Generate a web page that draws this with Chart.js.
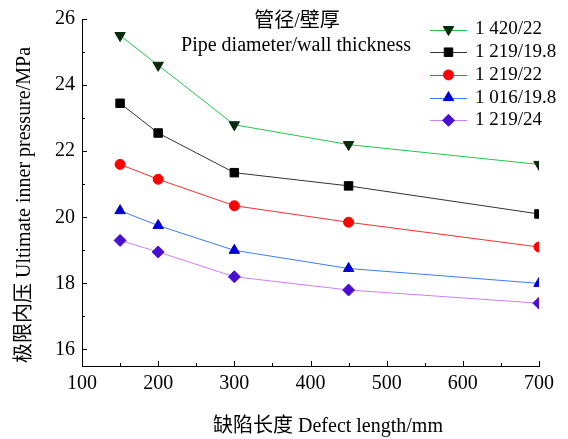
<!DOCTYPE html>
<html>
<head>
<meta charset="utf-8">
<script src="https://cdn.jsdelivr.net/npm/chart.js@4/dist/chart.umd.min.js"></script>
<style>
    body { margin: 0; background: #fff; }
</style>
</head>
<body>
<canvas id="chart" width="568" height="439"></canvas>
<script>
// defect length, mm
var lengths = [150, 200, 300, 450, 700];

// ultimate inner pressure, MPa
var p1420_22 = [25.5, 24.6, 22.8, 22.2, 21.6];
var p1219_198 = [23.45, 22.55, 21.35, 20.95, 20.1];
var p1219_22 = [21.6, 21.15, 20.35, 19.85, 19.1];
var p1016_198 = [20.2, 19.75, 19.0, 18.45, 18.0];
var p1219_24 = [19.3, 18.95, 18.2, 17.8, 17.4];

var seriesNames = ["1 420/22", "1 219/19.8", "1 219/22", "1 016/19.8", "1 219/24"];
var xTicks = [100, 200, 300, 400, 500, 600, 700];
var yTicks = [16, 18, 20, 22, 24, 26];

var serif = "'Liberation Serif', 'Noto Sans CJK SC', serif";

function pts(values) {
    return values.map(function (v, i) { return { x: lengths[i], y: v }; });
}

function series(label, values, line, fill, style, radius, rotation) {
    return {
        label: label,
        data: pts(values),
        borderColor: line,
        borderWidth: 1,
        backgroundColor: fill,
        pointBackgroundColor: fill,
        pointBorderColor: fill,
        pointBorderWidth: 1,
        pointStyle: style,
        pointRadius: radius,
        pointRotation: rotation || 0,
        tension: 0
    };
}

// inward major/minor ticks on both axes
var tickMarks = {
    id: "tickMarks",
    afterDraw: function (chart) {
        var ctx = chart.ctx, x = chart.scales.x, y = chart.scales.y;
        var a = chart.chartArea;
        ctx.save();
        ctx.strokeStyle = "#000";
        ctx.lineWidth = 1;
        ctx.beginPath();
        for (var v = 100; v <= 700; v += 50) {
            var px = Math.round(x.getPixelForValue(v)) + 0.5;
            var len = v % 100 === 0 ? 5 : 3;
            ctx.moveTo(px, a.bottom);
            ctx.lineTo(px, a.bottom - len);
        }
        for (var w = 16; w <= 26; w += 1) {
            var py = Math.round(y.getPixelForValue(w)) + 0.5;
            var l = w % 2 === 0 ? 5 : 3;
            ctx.moveTo(a.left, py);
            ctx.lineTo(a.left + l, py);
        }
        ctx.stroke();
        ctx.restore();
    }
};

// legend with line + marker, plus heading text
var legendBox = {
    id: "legendBox",
    afterDraw: function (chart) {
        var ctx = chart.ctx;
        ctx.save();
        ctx.fillStyle = "#000";
        ctx.font = "20px " + serif;
        ctx.textAlign = "center";
        ctx.textBaseline = "middle";
        ctx.fillText("管径/壁厚", 297, 22);
        ctx.fillText("Pipe diameter/wall thickness", 296, 46);

        ctx.font = "19px " + serif;
        chart.data.datasets.forEach(function (ds, i) {
            var yy = 29.5 + i * 22.7;
            ctx.strokeStyle = ds.borderColor;
            ctx.lineWidth = 1;
            ctx.beginPath();
            ctx.moveTo(430, Math.round(yy) + 0.5);
            ctx.lineTo(467, Math.round(yy) + 0.5);
            ctx.stroke();
            ctx.fillStyle = ds.pointBackgroundColor;
            ctx.strokeStyle = ds.pointBorderColor;
            Chart.helpers.drawPoint(ctx, {
                pointStyle: ds.pointStyle,
                radius: ds.pointRadius,
                rotation: ds.pointRotation,
                borderWidth: 1
            }, 448.5, yy);
            ctx.fillStyle = "#000";
            ctx.textAlign = "left";
            ctx.fillText(ds.label, 475, yy);
        });
        ctx.restore();
    }
};

var nb = "\u00a0";

new Chart(document.getElementById("chart"), {
    type: "line",
    data: {
        datasets: [
            series(seriesNames[0], p1420_22, "#1ec94a", "#062a0a", "triangle", 6, 180),
            series(seriesNames[1], p1219_198, "#333333", "#000000", "rect", 6),
            series(seriesNames[2], p1219_22, "#ff3030", "#ff0000", "circle", 5),
            series(seriesNames[3], p1016_198, "#3f7bff", "#0000d0", "triangle", 6),
            series(seriesNames[4], p1219_24, "#d27cff", "#4a0fd0", "rectRot", 6)
        ]
    },
    options: {
        responsive: false,
        animation: false,
        layout: { padding: { top: 9, right: 29, left: 0, bottom: 0 } },
        plugins: {
            legend: { display: false },
            tooltip: { enabled: false }
        },
        scales: {
            x: {
                type: "linear",
                min: 100,
                max: 700,
                afterBuildTicks: function (s) { s.ticks = xTicks.map(function (v) { return { value: v }; }); },
                afterFit: function (s) { s.height = 73; },
                grid: { display: true, drawOnChartArea: false, drawTicks: false },
                border: { display: true, color: "#000", width: 1 },
                ticks: { color: "#000", padding: 6, maxRotation: 0, font: { family: serif, size: 20 } },
                title: {
                    display: true,
                    text: nb.repeat(7) + "缺陷长度 Defect length/mm",
                    color: "#000",
                    font: { family: serif, size: 20 },
                    padding: { top: 12, bottom: 0 }
                }
            },
            y: {
                min: 15.5,
                max: 26,
                afterBuildTicks: function (s) { s.ticks = yTicks.map(function (v) { return { value: v }; }); },
                afterFit: function (s) { s.width = 82; },
                grid: { display: true, drawOnChartArea: false, drawTicks: false },
                border: { display: true, color: "#000", width: 1 },
                ticks: { color: "#000", padding: 7, font: { family: serif, size: 20 } },
                title: {
                    display: true,
                    text: "极限内压 Ultimate inner pressure/MPa" + nb.repeat(5),
                    color: "#000",
                    font: { family: serif, size: 20 },
                    padding: { top: 13, bottom: 0 }
                }
            }
        }
    },
    plugins: [tickMarks, legendBox]
});
</script>
</body>
</html>
